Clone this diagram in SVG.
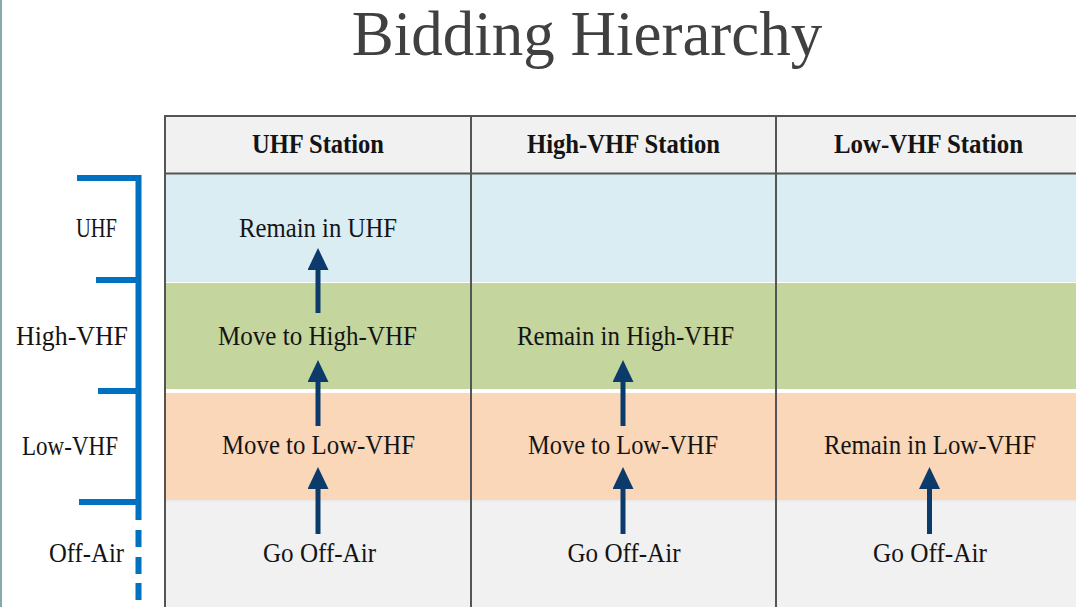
<svg xmlns="http://www.w3.org/2000/svg" width="1076" height="607" viewBox="0 0 1076 607">
<style>
.t{font-family:"Liberation Serif","Times New Roman",serif;font-size:27px;fill:#141414}
.c{text-anchor:middle}
.h{font-weight:bold}
.title{font-family:"Liberation Serif","Times New Roman",serif;font-size:63px;fill:#404040;text-anchor:middle}
.grid{stroke:#555;stroke-width:2;fill:none}
.br{stroke:#0070C0;stroke-width:6;fill:none}
.arr{stroke:#0B3A6B;stroke-width:5;fill:none}
</style>
<defs>
<marker id="ah" viewBox="0 -10.5 22 21" refX="1" refY="0" markerWidth="22" markerHeight="21" markerUnits="userSpaceOnUse" orient="auto">
<path d="M0,-10.5 L22,0 L0,10.5 Z" fill="#0B3A6B"/>
</marker>
</defs>
<rect width="1076" height="607" fill="#fff"/>
<line x1="1" y1="0" x2="1" y2="607" stroke="#5A8E92" stroke-width="1.5"/>
<text class="title" x="587" y="55">Bidding Hierarchy</text>

<g id="table">
<rect x="165" y="116" width="911" height="57" fill="#F1F1F1"/>
<rect x="165" y="174" width="911" height="107" fill="#DAEDF3"/>
<rect x="165" y="283" width="911" height="106" fill="#C4D59E"/>
<rect x="165" y="393" width="911" height="107" fill="#FAD7B9"/>
<rect x="165" y="502" width="911" height="105" fill="#F1F1F1"/>
<line x1="165" y1="281.5" x2="1076" y2="281.5" stroke="#E6E6E6" stroke-width="1"/>
<line x1="165" y1="391" x2="1076" y2="391" stroke="#FFFFFF" stroke-width="3"/>
<line x1="165" y1="501" x2="1076" y2="501" stroke="#E4E4E4" stroke-width="1.5"/>
<path class="grid" d="M1076,116 H165 V607 M165,173.5 H1076 M471,116 V607 M776,116 V607"/>
</g>

<g id="header-uhf"><text class="t c h" x="318" y="153" textLength="132" lengthAdjust="spacingAndGlyphs">UHF Station</text></g>
<g id="header-highvhf"><text class="t c h" x="623.5" y="153" textLength="193" lengthAdjust="spacingAndGlyphs">High-VHF Station</text></g>
<g id="header-lowvhf"><text class="t c h" x="928.5" y="153" textLength="189" lengthAdjust="spacingAndGlyphs">Low-VHF Station</text></g>

<g id="bracket">
<path class="br" d="M77,178 H138.5 V520 M96,280 H138.5 M98,391 H138.5 M79,502 H138.5"/>
<path class="br" d="M138.5,530 V547 M138.5,557 V574 M138.5,583 V600"/>
</g>
<g id="label-uhf"><text class="t" x="76" y="237" textLength="41" lengthAdjust="spacingAndGlyphs">UHF</text></g>
<g id="label-highvhf"><text class="t" x="16" y="345" textLength="112" lengthAdjust="spacingAndGlyphs">High-VHF</text></g>
<g id="label-lowvhf"><text class="t" x="22" y="455" textLength="96" lengthAdjust="spacingAndGlyphs">Low-VHF</text></g>
<g id="label-offair"><text class="t" x="49" y="562" textLength="75" lengthAdjust="spacingAndGlyphs">Off-Air</text></g>

<g id="n-uhf-remain"><text class="t c" x="318" y="237" textLength="158" lengthAdjust="spacingAndGlyphs">Remain in UHF</text></g>
<g id="n-uhf-movehigh"><text class="t c" x="317.5" y="345" textLength="199" lengthAdjust="spacingAndGlyphs">Move to High-VHF</text></g>
<g id="n-uhf-movelow"><text class="t c" x="318.5" y="454" textLength="193" lengthAdjust="spacingAndGlyphs">Move to Low-VHF</text></g>
<g id="n-uhf-off"><text class="t c" x="319.5" y="562" textLength="113" lengthAdjust="spacingAndGlyphs">Go Off-Air</text></g>

<g id="n-high-remain"><text class="t c" x="625.5" y="345" textLength="217" lengthAdjust="spacingAndGlyphs">Remain in High-VHF</text></g>
<g id="n-high-movelow"><text class="t c" x="623" y="454" textLength="190" lengthAdjust="spacingAndGlyphs">Move to Low-VHF</text></g>
<g id="n-high-off"><text class="t c" x="624" y="562" textLength="113" lengthAdjust="spacingAndGlyphs">Go Off-Air</text></g>

<g id="n-low-remain"><text class="t c" x="930" y="454" textLength="212" lengthAdjust="spacingAndGlyphs">Remain in Low-VHF</text></g>
<g id="n-low-off"><text class="t c" x="930" y="562" textLength="114" lengthAdjust="spacingAndGlyphs">Go Off-Air</text></g>

<g id="connectors">
<line class="arr" x1="318" y1="534" x2="318" y2="488" marker-end="url(#ah)"/>
<line class="arr" x1="318" y1="426" x2="318" y2="381" marker-end="url(#ah)"/>
<line class="arr" x1="318" y1="313" x2="318" y2="269" marker-end="url(#ah)"/>
<line class="arr" x1="623" y1="534" x2="623" y2="488" marker-end="url(#ah)"/>
<line class="arr" x1="623" y1="426" x2="623" y2="381" marker-end="url(#ah)"/>
<line class="arr" x1="929.5" y1="534" x2="929.5" y2="488" marker-end="url(#ah)"/>
</g>
</svg>
